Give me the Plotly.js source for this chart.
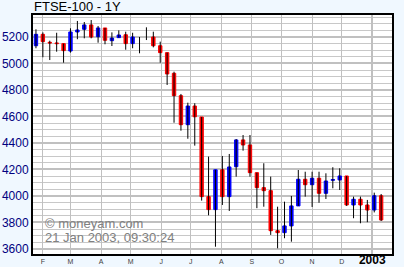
<!DOCTYPE html>
<html>
<head>
<meta charset="utf-8">
<script src="https://cdn.plot.ly/plotly-3.0.1.min.js"></script>
<style>html,body{margin:0;padding:0;background:#f0f8ff;}#chart{width:404px;height:267px;}</style>
</head>
<body>
<div id="chart"></div>
<script>
// Weekly candles, FTSE-100, 1 year to 21 Jan 2003
var dates = ['2002-01-25','2002-02-01','2002-02-08','2002-02-15','2002-02-22','2002-03-01','2002-03-08','2002-03-15','2002-03-22','2002-03-29',
  '2002-04-05','2002-04-12','2002-04-19','2002-04-26','2002-05-03','2002-05-10','2002-05-17','2002-05-24','2002-05-31','2002-06-07',
  '2002-06-14','2002-06-21','2002-06-28','2002-07-05','2002-07-12','2002-07-19','2002-07-26','2002-08-02','2002-08-09','2002-08-16',
  '2002-08-23','2002-08-30','2002-09-06','2002-09-13','2002-09-20','2002-09-27','2002-10-04','2002-10-11','2002-10-18','2002-10-25',
  '2002-11-01','2002-11-08','2002-11-15','2002-11-22','2002-11-29','2002-12-06','2002-12-13','2002-12-20','2002-12-27','2003-01-03','2003-01-10'];
var openV  = [5134,5220,5160,5155,5150,5094,5238,5258,5291,5202,5268,5172,5195,5217,5150,5190,5215,5200,5134,5082,
  4926,4757,4538,4679,4596,3995,3897,4198,3995,4221,4423,4385,4176,4063,4040,3738,3723,3774,3925,4126,
  4085,4134,4020,4118,4121,4151,3932,3975,3932,3894,4002];
var highV  = [5258,5235,5172,5232,5150,5266,5321,5313,5328,5283,5268,5235,5250,5240,5232,5200,5273,5240,5165,5082,
  4938,4770,4704,4700,4596,4297,4198,4302,4317,4430,4460,4460,4176,4247,4146,3919,3957,4000,4196,4183,
  4183,4183,4171,4217,4209,4151,3995,3995,3970,4025,4015];
var lowV   = [5115,5047,5026,5089,5006,5082,5183,5190,5190,5157,5145,5132,5195,5104,5115,5077,5177,5122,5006,4838,
  4553,4493,4432,4380,3965,3854,3617,3932,3887,4146,4342,4146,3908,3919,3706,3605,3681,3655,3925,3995,
  3917,3949,3977,4058,4045,3925,3832,3794,3802,3876,3811];
var closeV = [5220,5165,5155,5150,5097,5238,5253,5291,5200,5268,5175,5192,5215,5150,5200,5190,5215,5134,5082,4921,
  4757,4538,4679,4598,3995,3897,4198,3995,4219,4423,4385,4176,4063,4040,3738,3723,3774,3925,4126,4085,
  4134,4020,4113,4124,4151,3932,3975,3932,3894,4002,3819];
var monthTicks = ['2002-02-01','2002-03-01','2002-04-01','2002-05-01','2002-06-01','2002-07-01','2002-08-01','2002-09-01','2002-10-01','2002-11-01','2002-12-01'];
var monthLabels = ['F','M','A','M','J','J','A','S','O','N','D'];
var yearTicks = ['2003-01-01'];
var yearLabels = ['2003'];
var yTicks = [3600,3800,4000,4200,4400,4600,4800,5000,5200];

// wick segments (low-high per week) and body-only series
var wickX = [], wickY = [];
var bodyO = [], bodyH = [], bodyL = [], bodyC = [];
for (var i = 0; i < dates.length; i++) {
  wickX.push(dates[i], dates[i], null);
  wickY.push(lowV[i], highV[i], null);
  if (openV[i] === closeV[i]) { bodyO.push(null); bodyH.push(null); bodyL.push(null); bodyC.push(null); continue; }
  bodyO.push(openV[i]); bodyC.push(closeV[i]);
  bodyH.push(Math.max(openV[i], closeV[i])); bodyL.push(Math.min(openV[i], closeV[i]));
}

var xRange = ['2002-01-22', '2003-01-21'];
var wicks = {
  type: 'scatter', mode: 'lines', x: wickX, y: wickY, connectgaps: false,
  line: {color: '#000000', width: 1}, hoverinfo: 'skip', showlegend: false
};
var bodies = {
  type: 'candlestick', x: dates, open: bodyO, high: bodyH, low: bodyL, close: bodyC,
  increasing: {line: {color: '#0000ff', width: 1}, fillcolor: '#0000ff'},
  decreasing: {line: {color: '#ff0000', width: 1}, fillcolor: '#ff0000'},
  hoverinfo: 'skip', showlegend: false
};

var layout = {
  width: 404, height: 267,
  margin: {l: 33, r: 12, t: 15, b: 13},
  paper_bgcolor: '#f0f8ff', plot_bgcolor: '#ffffff',
  showlegend: false,
  font: {family: 'Liberation Sans, Arial, sans-serif'},
  title: {text: 'FTSE-100 - 1Y', font: {family: 'Liberation Sans, Arial, sans-serif', size: 13, color: '#000000'},
          x: 34/404, xanchor: 'left', y: 0.993, yanchor: 'top', pad: {t: 0, b: 0, l: 0, r: 0}},
  xaxis: {
    type: 'date', range: xRange, rangeslider: {visible: false},
    tickvals: monthTicks, ticktext: monthLabels, ticks: '',
    tickfont: {size: 7, color: '#404040'},
    showgrid: true, gridcolor: '#c0c0c0', gridwidth: 1,
    showline: true, linecolor: '#000000', linewidth: 2, mirror: true,
    zeroline: false, fixedrange: true
  },
  xaxis2: {
    type: 'date', range: xRange, overlaying: 'x', anchor: 'y', side: 'bottom',
    tickvals: yearTicks, ticktext: yearLabels, ticks: '', ticklabelstandoff: -3,
    tickfont: {size: 12, color: '#000000', family: 'Liberation Sans, Arial, sans-serif', weight: 'bold'},
    showgrid: true, gridcolor: '#c0c0c0', gridwidth: 2, showline: false, zeroline: false
  },
  yaxis: {
    range: [3562, 5366], tickvals: yTicks, ticks: '',
    tickfont: {size: 12, color: '#000080'},
    showgrid: true, gridcolor: '#c0c0c0', gridwidth: 2,
    minor: {dtick: 50, tick0: 0, showgrid: true, gridcolor: '#c8c8c8', gridwidth: 1},
    showline: true, linecolor: '#000000', linewidth: 2, mirror: true,
    zeroline: false, fixedrange: true
  },
  annotations: [
    {text: '© moneyam.com', xref: 'paper', yref: 'paper', x: 0.028, y: 0.126, xanchor: 'left', yanchor: 'middle',
     showarrow: false, font: {size: 13, color: '#808080'}},
    {text: '21 Jan 2003, 09:30:24', xref: 'paper', yref: 'paper', x: 0.028, y: 0.067, xanchor: 'left', yanchor: 'middle',
     showarrow: false, font: {size: 13, color: '#808080'}}
  ]
};

var ghost = {type: 'scatter', x: [], y: [], xaxis: 'x2', yaxis: 'y', showlegend: false, hoverinfo: 'skip'};
Plotly.newPlot('chart', [ghost, wicks, bodies], layout, {staticPlot: true, displayModeBar: false});
</script>
</body>
</html>
